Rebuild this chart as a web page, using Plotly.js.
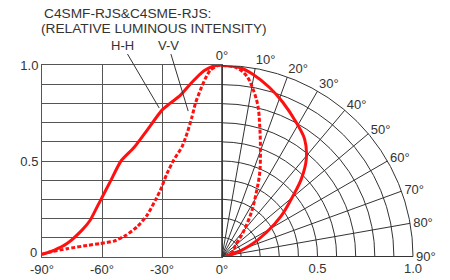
<!DOCTYPE html>
<html>
<head>
<meta charset="utf-8">
<script src="https://cdn.plot.ly/plotly-3.0.1.min.js"></script>
<style>html,body{margin:0;padding:0;background:#fff}#chart{width:450px;height:280px}</style>
</head>
<body>
<div id="chart"></div>
<script>
// Left half (Cartesian): angle in degrees vs relative intensity
const hhLeftAngle = [-90, -84, -77.5, -70, -66, -62, -60, -56, -50.5, -44, -37.5, -30, -26, -21, -15, -9, -4, 0];
const hhLeftValue = [0.014, 0.035, 0.07, 0.14, 0.19, 0.27, 0.31, 0.39, 0.50, 0.57, 0.66, 0.765, 0.80, 0.84, 0.91, 0.97, 0.995, 1.0];
const vvLeftAngle = [-90, -86, -77.5, -67.5, -61, -54, -48, -42.5, -37.5, -33.3, -30.8, -27.5, -24.2, -20, -17.5, -15, -13.3, -10.8, -8.3, -5.8, -2.5, 0];
const vvLeftValue = [0.014, 0.026, 0.043, 0.06, 0.07, 0.083, 0.113, 0.157, 0.217, 0.296, 0.348, 0.435, 0.504, 0.574, 0.643, 0.73, 0.80, 0.87, 0.93, 0.974, 0.995, 1.0];
// Right half (polar): angle in degrees from axis vs relative intensity
const hhRightAngle = [0, 5.3, 9.6, 15.7, 21.6, 29, 35.2, 40.9, 45.7, 49.5, 55.6, 61.6, 68.9, 78, 90];
const hhRightValue = [1.0, 0.994, 0.968, 0.919, 0.867, 0.802, 0.751, 0.674, 0.58, 0.489, 0.376, 0.264, 0.155, 0.06, 0.015];
const vvRightAngle = [0, 4.3, 7.7, 10.5, 13.4, 16.1, 19.7, 24.2, 28.2, 33.7, 41.2, 50.7, 60, 70, 80, 90];
const vvRightValue = [1.0, 0.992, 0.955, 0.891, 0.811, 0.712, 0.597, 0.482, 0.38, 0.277, 0.167, 0.09, 0.07, 0.055, 0.04, 0.015];

const xTickVals = [-90, -60, -30, 0];
const xTickText = ['-90°', '-60°', '-30°', '0°'];
const yTickVals = [0, 0.1, 0.2, 0.3, 0.4, 0.5, 0.6, 0.7, 0.8, 0.9, 1.0];
const yTickText = ['', '', '', '', '', '0.5', '', '', '', '', '1.0'];
const rTickText = ['', '', '', '', '', '0.5', '', '', '', '', '1.0'];
const thetaTickVals = [0, 10, 20, 30, 40, 50, 60, 70, 80, 90];
const thetaTickText = ['0°', '10°', '20°', '30°', '40°', '50°', '60°', '70°', '80°', '90°'];

const RED = '#ff1010';
const W = 450, H = 280;
const font = {family: 'Liberation Sans, Arial, sans-serif', size: 13, color: '#333'};
const titleFont = {family: 'Liberation Sans, Arial, sans-serif', size: 13.7, color: '#333'};

const traces = [
  {type: 'scatter', mode: 'lines', x: hhLeftAngle, y: hhLeftValue, line: {color: RED, width: 3, shape: 'spline', smoothing: 0.6}, showlegend: false, hoverinfo: 'skip'},
  {type: 'scatter', mode: 'lines', x: vvLeftAngle, y: vvLeftValue, line: {color: RED, width: 3, dash: '4px,2px', shape: 'spline', smoothing: 0.6}, showlegend: false, hoverinfo: 'skip'},
  {type: 'scatterpolar', mode: 'lines', theta: hhRightAngle, r: hhRightValue, line: {color: RED, width: 3, shape: 'spline'}, showlegend: false, hoverinfo: 'skip'},
  {type: 'scatterpolar', mode: 'lines', theta: vvRightAngle, r: vvRightValue, line: {color: RED, width: 3, dash: '4px,2px', shape: 'spline'}, showlegend: false, hoverinfo: 'skip'}
];

const layout = {
  width: W, height: H,
  margin: {l: 0, r: 0, t: 0, b: 0},
  paper_bgcolor: '#fff', plot_bgcolor: 'rgba(0,0,0,0)',
  font: font,
  showlegend: false,
  xaxis: {
    domain: [42 / W, 222 / W], range: [-90, 0],
    tickvals: xTickVals, ticktext: xTickText,
    showgrid: true, gridcolor: '#555', gridwidth: 1,
    zeroline: false, showline: true, linecolor: '#555', mirror: true,
    ticks: '', tickfont: font, fixedrange: true
  },
  yaxis: {
    domain: [1 - 257 / H, 1 - 65 / H], range: [0, 1],
    tickvals: yTickVals, ticktext: yTickText,
    showgrid: true, gridcolor: '#555', gridwidth: 1,
    zeroline: false, showline: true, linecolor: '#555', mirror: true,
    ticks: '', tickfont: font, fixedrange: true
  },
  polar: {
    domain: {x: [222 / W, 413 / W], y: [1 - 257 / H, 1 - 65 / H]},
    sector: [0, 90],
    bgcolor: 'rgba(0,0,0,0)',
    angularaxis: {
      rotation: 90, direction: 'clockwise',
      tickvals: thetaTickVals, ticktext: thetaTickText,
      showgrid: true, gridcolor: '#333', gridwidth: 1,
      showline: true, linecolor: '#333', linewidth: 1,
      ticks: '', tickfont: font
    },
    radialaxis: {
      range: [0, 1], angle: 0, side: 'clockwise',
      tickvals: yTickVals, ticktext: rTickText,
      showgrid: true, gridcolor: '#333', gridwidth: 1,
      showline: true, linecolor: '#333', linewidth: 1,
      ticks: '', tickfont: font, tickangle: 0
    }
  },
  annotations: [
    {xref: 'paper', yref: 'paper', x: 42 / W, y: 1 - 13 / H, xanchor: 'left', yanchor: 'middle', showarrow: false, text: 'C4SMF-RJS&C4SME-RJS:', font: titleFont},
    {xref: 'paper', yref: 'paper', x: 39 / W, y: 1 - 29 / H, xanchor: 'left', yanchor: 'middle', showarrow: false, text: '(RELATIVE LUMINOUS INTENSITY)', font: titleFont},
    {xref: 'paper', yref: 'paper', x: 38 / W, y: 1 - 261 / H, xanchor: 'right', yanchor: 'bottom', showarrow: false, text: '0', font: font, borderpad: 0},
    {xref: 'x', yref: 'y', x: -31.4, y: 0.776, text: 'H-H', showarrow: true, arrowhead: 0, arrowwidth: 1, arrowcolor: '#333', ax: -37, ay: -63, font: font},
    {xref: 'x', yref: 'y', x: -16.9, y: 0.76, text: 'V-V', showarrow: true, arrowhead: 0, arrowwidth: 1, arrowcolor: '#333', ax: -20, ay: -66, font: font}
  ]
};

Plotly.newPlot('chart', traces, layout, {displayModeBar: false, staticPlot: true});
</script>
</body>
</html>
